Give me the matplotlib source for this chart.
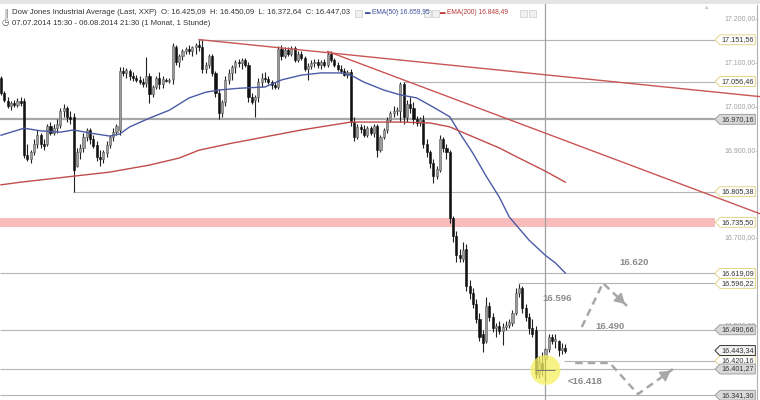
import matplotlib
matplotlib.use('Agg')
import matplotlib.pyplot as plt
from matplotlib.path import Path
from matplotlib.patches import Ellipse, Rectangle

plt.rcParams['font.family'] = ['Liberation Sans', 'DejaVu Sans']

# hourly candles, Dow Jones 07.07.2014 - 06.08.2014
opens = [17064, 17030, 17012, 17000, 17008, 17003, 17012, 17012, 16890, 16880,
         16895, 16915, 16935, 16915, 16915, 16955, 16940, 16950, 16958, 16990,
         16995, 16975, 16975, 16865, 16895, 16905, 16930, 16945, 16925, 16912,
         16885, 16880, 16893, 16912, 16930, 16942, 16945, 17080, 17075, 17080,
         17068, 17065, 17060, 17055, 17052, 17070, 17028, 17045, 17065, 17050,
         17060, 17058, 17062, 17135, 17100, 17115, 17125, 17130, 17125, 17135,
         17140, 17135, 17085, 17095, 17115, 17075, 17030, 16985, 17010, 17060,
         17075, 17090, 17100, 17098, 17105, 17095, 17020, 17015, 17020, 17055,
         17065, 17062, 17055, 17048, 17045, 17130, 17115, 17128, 17120, 17132,
         17105, 17118, 17110, 17085, 17092, 17098, 17102, 17095, 17100, 17095,
         17118, 17105, 17095, 17085, 17080, 17072, 17078, 16965, 16930, 16952,
         16948, 16935, 16950, 16940, 16955, 16900, 16930, 16945, 16968, 16985,
         16990, 16990, 17050, 16975, 17005, 16995, 16970, 16962, 16968, 16915,
         16895, 16870, 16840, 16855, 16925, 16905, 16895, 16745, 16705, 16660,
         16652, 16675, 16590, 16575, 16550, 16515, 16480, 16465, 16545, 16520,
         16495, 16500, 16488, 16498, 16502, 16505, 16530, 16575, 16585, 16540,
         16520, 16495, 16490, 16390, 16415, 16425, 16447, 16475, 16465, 16465,
         16445, 16450]
highs = [17070, 17035, 17020, 17012, 17015, 17018, 17020, 17018, 16915, 16900,
         16925, 16945, 16940, 16925, 16960, 16965, 16960, 16970, 16995, 17005,
         17000, 16990, 16985, 16905, 16915, 16940, 16950, 16950, 16935, 16920,
         16900, 16900, 16920, 16935, 16950, 16960, 17090, 17090, 17088, 17085,
         17078, 17072, 17068, 17065, 17112, 17075, 17048, 17070, 17078, 17068,
         17065, 17064, 17145, 17140, 17120, 17130, 17135, 17140, 17138, 17145,
         17152, 17150, 17100, 17120, 17118, 17080, 17040, 17015, 17070, 17085,
         17095, 17105, 17108, 17110, 17110, 17100, 17030, 17025, 17065, 17075,
         17078, 17068, 17060, 17055, 17138, 17140, 17135, 17135, 17138, 17138,
         17125, 17125, 17115, 17098, 17105, 17108, 17108, 17105, 17108, 17125,
         17125, 17110, 17100, 17095, 17088, 17082, 17085, 16975, 16960, 16960,
         16958, 16955, 16955, 16960, 16960, 16935, 16950, 16975, 16990, 17000,
         16998, 17055, 17056, 17015, 17020, 17010, 16978, 16975, 16980, 16925,
         16900, 16880, 16865, 16935, 16930, 16915, 16900, 16750, 16715, 16675,
         16690, 16685, 16605, 16585, 16560, 16530, 16490, 16565, 16555, 16530,
         16505, 16510, 16505, 16510, 16515, 16535, 16585, 16596, 16590, 16550,
         16530, 16515, 16500, 16430, 16440, 16450, 16480, 16482, 16480, 16468,
         16460, 16458]
lows = [17025, 17010, 16995, 16992, 16998, 16998, 17000, 16882, 16875, 16870,
        16890, 16905, 16905, 16900, 16910, 16935, 16935, 16940, 16950, 16975,
        16965, 16960, 16805, 16862, 16880, 16895, 16920, 16915, 16905, 16875,
        16865, 16870, 16885, 16905, 16920, 16935, 16935, 17068, 17065, 17060,
        17058, 17055, 17050, 17045, 17045, 17008, 17020, 17040, 17040, 17042,
        17055, 17052, 17050, 17095, 17090, 17105, 17118, 17120, 17115, 17120,
        17125, 17075, 17075, 17088, 17070, 17020, 16970, 16975, 17000, 17050,
        17060, 17075, 17090, 17085, 17090, 17010, 17005, 16975, 17010, 17045,
        17055, 17050, 17040, 17040, 17040, 17105, 17110, 17115, 17115, 17100,
        17100, 17105, 17080, 17060, 17085, 17090, 17088, 17085, 17090, 17090,
        17100, 17090, 17080, 17075, 17068, 17065, 16955, 16920, 16925, 16940,
        16930, 16930, 16935, 16930, 16885, 16895, 16925, 16940, 16965, 16975,
        16980, 16965, 16960, 16965, 16985, 16960, 16955, 16955, 16905, 16885,
        16860, 16825, 16835, 16850, 16895, 16880, 16735, 16690, 16645, 16645,
        16645, 16580, 16560, 16540, 16505, 16465, 16440, 16460, 16510, 16485,
        16475, 16480, 16455, 16490, 16495, 16500, 16525, 16565, 16530, 16510,
        16480, 16475, 16380, 16380, 16385, 16373, 16440, 16458, 16450, 16430,
        16435, 16438]
closes = [17030, 17015, 17000, 17008, 17003, 17012, 17008, 16890, 16880, 16895,
          16915, 16935, 16915, 16910, 16955, 16940, 16950, 16960, 16990, 16995,
          16975, 16970, 16855, 16895, 16905, 16930, 16945, 16925, 16910, 16885,
          16880, 16895, 16912, 16930, 16942, 16955, 17080, 17075, 17082, 17068,
          17065, 17060, 17055, 17050, 17070, 17028, 17045, 17065, 17050, 17062,
          17058, 17060, 17138, 17100, 17115, 17125, 17130, 17125, 17135, 17140,
          17135, 17085, 17095, 17115, 17075, 17030, 16985, 17010, 17060, 17075,
          17090, 17100, 17098, 17105, 17095, 17020, 17010, 17020, 17055, 17065,
          17062, 17055, 17048, 17045, 17130, 17115, 17128, 17120, 17132, 17105,
          17118, 17110, 17085, 17092, 17098, 17102, 17095, 17100, 17095, 17120,
          17105, 17095, 17085, 17080, 17072, 17078, 16965, 16930, 16952, 16948,
          16935, 16950, 16940, 16955, 16900, 16930, 16945, 16968, 16985, 16990,
          16992, 17050, 16975, 17005, 16995, 16970, 16962, 16970, 16915, 16895,
          16870, 16840, 16858, 16925, 16905, 16895, 16745, 16705, 16660, 16655,
          16672, 16590, 16575, 16550, 16515, 16475, 16460, 16545, 16520, 16495,
          16500, 16488, 16498, 16502, 16508, 16530, 16575, 16585, 16540, 16520,
          16495, 16482, 16390, 16420, 16400, 16447, 16475, 16465, 16470, 16445,
          16450, 16443]

# moving averages (bar index, value)
ema50_x = [0, 7, 12, 18, 22, 27, 33, 36, 39, 45, 51, 57, 62, 66, 72, 80, 85, 91,
           97, 103, 106, 110, 116, 121, 126, 131, 136, 139, 143, 147, 151, 154,
           160, 165, 168, 171]
ema50_y = [16934, 16950, 16944, 16941, 16946, 16939, 16932, 16937, 16953, 16973,
           16991, 17019, 17032, 17037, 17041, 17044, 17060, 17071, 17076, 17076,
           17071, 17055, 17037, 17026, 17019, 16998, 16976, 16939, 16893, 16841,
           16793, 16748, 16695, 16660, 16643, 16620]
ema200_x = [0, 6, 20, 33, 45, 54, 60, 70, 75, 91, 106, 121, 130, 136, 151, 157, 165, 171]
ema200_y = [16821, 16827, 16839, 16850, 16866, 16882, 16900, 16916, 16923, 16946,
            16964, 16964, 16962, 16953, 16905, 16882, 16852, 16827]

# trend lines (start bar, start price, end bar, end price)
trend_lines = [(60, 17152, 230, 17022), (99, 17125, 230, 16755)]

# horizontal levels and where they were drawn from
level_values = [17151.56, 17056.46, 16970.16, 16805.38, 16619.09, 16596.22,
                16490.66, 16420.16, 16401.27, 16341.30]
level_starts = [60, 122, 0, 22, 0, 157, 0, 171, 0, 0]
zone_value = 16735.50
last_price = 16443.34
axis_ticks = [17200, 17100, 17000, 16900, 16700, 16500]

# scenario annotations
notes = ['16.620', '16.596', '16.490', '<16.418']
notes_x = [191.8, 168.5, 184.5, 177]
notes_y = [16643, 16563, 16499, 16372]
up_path_x = [176, 182.4, 189.7]
up_path_y = [16497, 16597, 16545]
down_path_x = [174, 184.5, 193, 203.6]
down_path_y = [16415, 16415, 16344, 16401]
cross_bar = 165


def de(v):
    s = f"{v:,.2f}"
    return s.replace(',', '#').replace('.', ',').replace('#', '.')


def tag_box(x0, y0, width, height, mutation_size):
    pad = 0.2 * mutation_size
    x0, y0 = x0 - pad, y0 - pad
    x1, y1 = x0 + width + 2 * pad, y0 + height + 2 * pad
    ym = (y0 + y1) / 2
    tip = (y1 - y0) / 2
    return Path([(x0 - tip, ym), (x0, y0), (x1, y0), (x1, y1), (x0, y1), (x0 - tip, ym)],
                closed=True)


fig = plt.figure(figsize=(7.6, 4.0), dpi=100)
ax = fig.add_axes([0, 0, 1, 1])
ax.set_xlim(-0.3, 230)
ax.set_ylim(16330.6, 17242.2)
ax.axis('off')

right_end = 216.5

# levels
for v, s in zip(level_values, level_starts):
    if v == 16970.16:
        ax.hlines(v, s - 1, right_end, color='#a8a8a8', lw=1.6, zorder=1)
    else:
        ax.hlines(v, s - 0.3, right_end, color='#b4b4b4', lw=0.8, zorder=1)
ax.fill_between([-0.3, right_end], zone_value - 11, zone_value + 11, color='#f8bcbc', lw=0, zorder=1)

# candles
xs = list(range(len(closes)))
ax.vlines(xs, lows, highs, color='#222222', lw=0.8, zorder=3)
bottoms = [min(o, c) for o, c in zip(opens, closes)]
heights = [max(abs(c - o), 2) for o, c in zip(opens, closes)]
colors = ['#9c9c9c' if c >= o else '#111111' for o, c in zip(opens, closes)]
edges = ['#5a5a5a' if c >= o else '#111111' for o, c in zip(opens, closes)]
ax.bar(xs, heights, bottom=bottoms, width=0.62, color=colors, edgecolor=edges, lw=0.4, zorder=4)

# indicators and trend lines
ax.plot(ema50_x, ema50_y, color='#4b5aa6', lw=1.0, zorder=5)
ax.plot(ema200_x, ema200_y, color='#c24b4b', lw=1.0, zorder=5)
for x0, y0, x1, y1 in trend_lines:
    ax.plot([x0, x1], [y0, y1], color='#c95555', lw=1.0, zorder=5)

# crosshair + highlight
ax.axvline(cross_bar, color='#a0a0a0', lw=0.9, zorder=2)
ax.add_patch(Ellipse((cross_bar, 16399), 9.1, 68, color='#f5ef5e', alpha=0.75, lw=0, zorder=6))
ax.hlines(16399, cross_bar - 3, cross_bar + 3, color='#777777', lw=0.7, zorder=7)

# scenario arrows
ax.plot(up_path_x, up_path_y, color='#a8a8a8', lw=1.8, ls=(0, (3, 2)), zorder=6)
ax.plot(down_path_x, down_path_y, color='#a8a8a8', lw=1.8, ls=(0, (3, 2)), zorder=6)
for px, py in [(up_path_x, up_path_y), (down_path_x, down_path_y)]:
    ax.annotate('', xy=(px[-1], py[-1]),
                xytext=(px[-1] - (px[-1] - px[-2]) * 0.3, py[-1] - (py[-1] - py[-2]) * 0.3),
                arrowprops=dict(arrowstyle='-|>,head_length=0.6,head_width=0.35',
                                color='#a8a8a8', lw=1.2), zorder=6)
for t, x, y in zip(notes, notes_x, notes_y):
    ax.text(x, y, t, fontsize=6.8, fontweight='bold', color='#8a8a8a',
            ha='center', va='center', zorder=7)

# price axis
yt = ax.get_yaxis_transform()
ax.plot([0.996, 0.996], [16330.6, 17230], transform=yt, color='#b0b0b0', lw=0.8)
for t in axis_ticks:
    ax.text(0.997, t, de(t) + '-', transform=yt, fontsize=5, color='#a0a0a0',
            ha='right', va='center', zorder=8)
ax.text(0.93, 17225, '\u25b2', transform=yt, fontsize=4, color='#c0c0c0', ha='center', va='center')

label_values = level_values + [zone_value, last_price]
for v in label_values:
    if v in (16970.16, 16490.66, 16401.27, 16341.30):
        fc, ec = '#d9d9d9', '#a0a0a0'
    elif v == last_price:
        fc, ec = '#f2f2f2', '#333333'
    else:
        fc, ec = '#ffffff', '#e2d48a'
    ax.text(0.992, v, de(v), transform=yt, fontsize=5.2, color='#333333',
            ha='right', va='center', zorder=9,
            bbox=dict(boxstyle=tag_box, fc=fc, ec=ec, lw=0.7))

# header
fig.patches.append(Rectangle((0, 1 - 4 / 400), 1, 4 / 400, transform=fig.transFigure,
                             color='#e4e4e4', lw=0))
hy1, hy2 = 1 - 13 / 400, 1 - 23.5 / 400
fig.text(3 / 760, hy1, '\u2551', fontsize=5.5, color='#555555', va='center')
fig.text(12 / 760, hy1,
         'Dow Jones Industrial Average (Last, XXP)  O: 16.425,09  H: 16.450,09  L: 16.372,64  C: 16.447,03',
         fontsize=5.6, color='#333333', va='center')
fig.text(365 / 760, hy1, '\u25ac', fontsize=4, color='#3d4f9f', va='center')
fig.text(372 / 760, hy1, 'EMA(50) 16.659,95', fontsize=4.8, color='#3d4f9f', va='center')
fig.text(440 / 760, hy1, '\u25ac', fontsize=4, color='#b83a3a', va='center')
fig.text(447 / 760, hy1, 'EMA(200) 16.848,49', fontsize=4.8, color='#b83a3a', va='center')
for bx in [355, 424, 432, 520, 529]:
    fig.patches.append(Rectangle((bx / 760, 1 - 17 / 400), 7 / 760, 7 / 400,
                                 transform=fig.transFigure, fc='#f0f0f0', ec='#cccccc', lw=0.5))
fig.text(1.5 / 760, hy2, '\u25f7', fontsize=6, color='#444444', va='center')
fig.text(12 / 760, hy2, '07.07.2014 15:30 - 06.08.2014 21:30 (1 Monat, 1 Stunde)',
         fontsize=5.6, color='#333333', va='center')

fig.savefig('out.png', dpi=100)
